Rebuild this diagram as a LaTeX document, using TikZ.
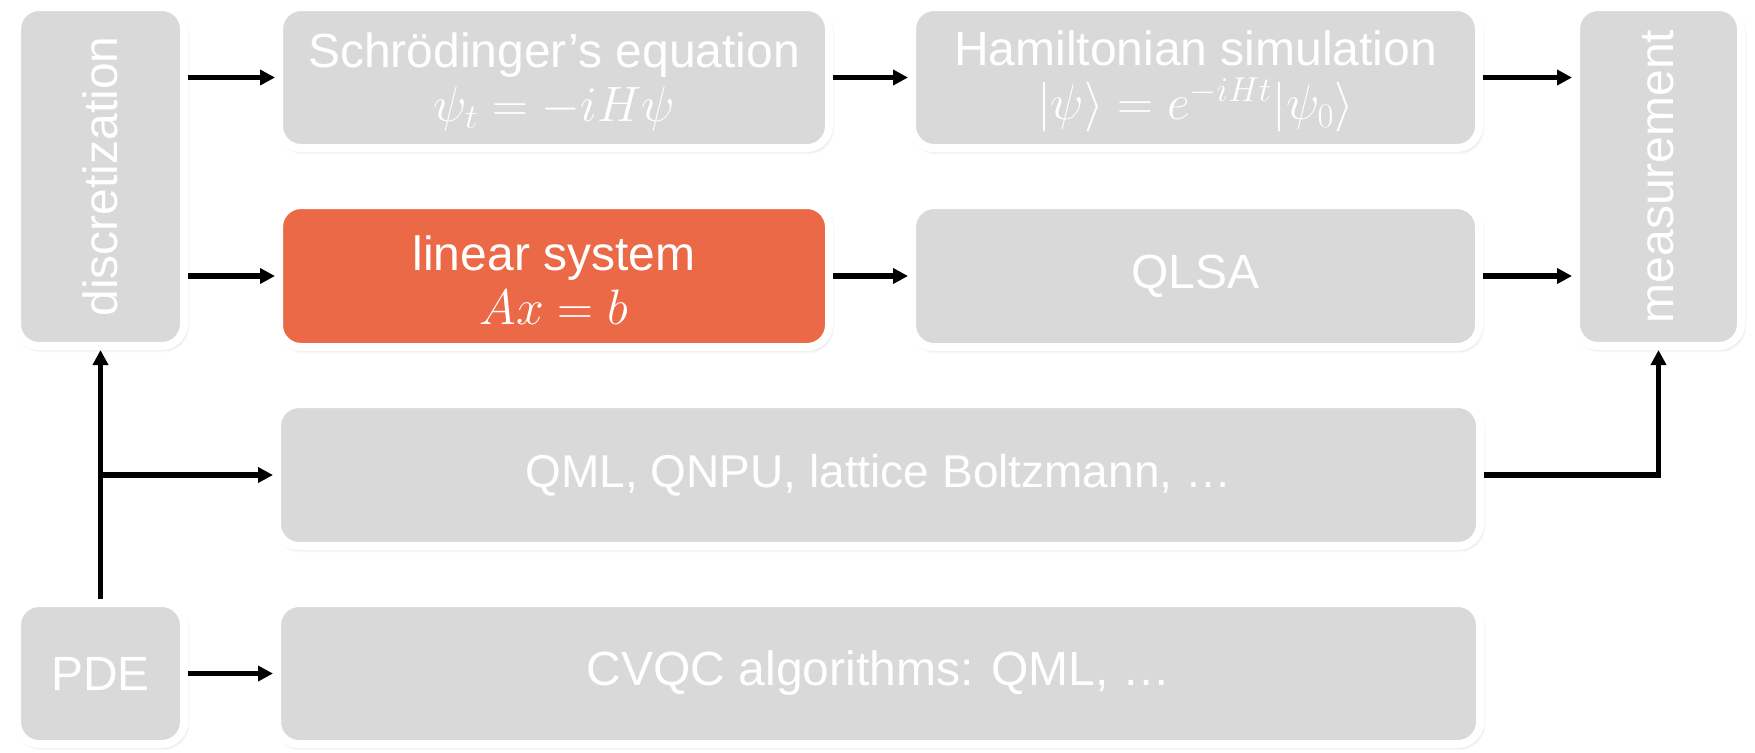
\documentclass[tikz,border=0pt]{standalone}
\usepackage{fontspec}
\setmainfont{Liberation Sans}
\usetikzlibrary{arrows.meta,shadows.blur}
\definecolor{boxgrey}{HTML}{D9D9D9}
\definecolor{hot}{HTML}{EB6946}
\newcommand{\topstrut}{\rule{0pt}{21.5pt}}
\tikzset{
  box/.style={rounded corners=11pt, fill=boxgrey, draw=white, line width=4pt,
    text=white, align=center, inner sep=0pt,
    font=\fontsize{24}{26}\selectfont,
    blur shadow={shadow xshift=0.8pt, shadow yshift=-1.2pt, shadow blur radius=2pt, shadow opacity=30}},
  hotbox/.style={box, fill=hot},
  arr/.style={line width=2.8pt, -{Triangle[length=7.5pt,width=7.5pt]}},
}
\begin{document}
\begin{tikzpicture}[x=0.5pt,y=-0.5pt]
\useasboundingbox (0,0) rectangle (1755,752);
% nodes (sizes in pt = px/2)
\node[box, minimum width=83.5pt, minimum height=169.5pt] (disc) at (100.5,176.5) {\rotatebox{90}{discretization}};
\node[box, minimum width=82.5pt, minimum height=169.5pt] (meas) at (1658.5,176.5) {\rotatebox{90}{measurement}};
\node[box, minimum width=275pt, minimum height=70.5pt] (schr) at (554,77.5) {\topstrut Schrödinger’s equation\\[1pt] $\psi_t = -iH\psi$};
\node[box, minimum width=283.5pt, minimum height=70.5pt] (ham) at (1195.5,77.5) {\topstrut Hamiltonian simulation\\[1pt] $|\psi\rangle = e^{-iHt}|\psi_0\rangle$};
\node[hotbox, minimum width=275pt, minimum height=71pt] (lin) at (554,276) {\topstrut linear system\\[1pt] $Ax = b$};
\node[box, minimum width=283.5pt, minimum height=71pt] (qlsa) at (1195.5,276) {QLSA};
\node[box, minimum width=601.5pt, minimum height=71pt, font=\fontsize{23}{26}\selectfont] (qml) at (878.5,475) {QML, QNPU, lattice Boltzmann, …};
\node[box, minimum width=83.5pt, minimum height=70.5pt] (pde) at (100.5,673.5) {PDE};
\node[box, minimum width=601.5pt, minimum height=70.5pt] (cvqc) at (878.5,673.5) {CVQC algorithms: QML, …};
% connectors
\draw[arr] (disc.east |- schr.west) -- (schr.west);
\draw[arr] (schr.east) -- (ham.west);
\draw[arr] (ham.east) -- (ham.east -| meas.west);
\draw[arr] (disc.east |- lin.west) -- (lin.west);
\draw[arr] (lin.east) -- (qlsa.west);
\draw[arr] (qlsa.east) -- (qlsa.east -| meas.west);
\draw[arr] (pde.north) -- (disc.south);
\draw[arr] (pde.north |- qml.west) -- (qml.west);
\draw[arr] (qml.east) -| (meas.south);
\draw[arr] (pde.east) -- (cvqc.west);
\end{tikzpicture}
\end{document}
